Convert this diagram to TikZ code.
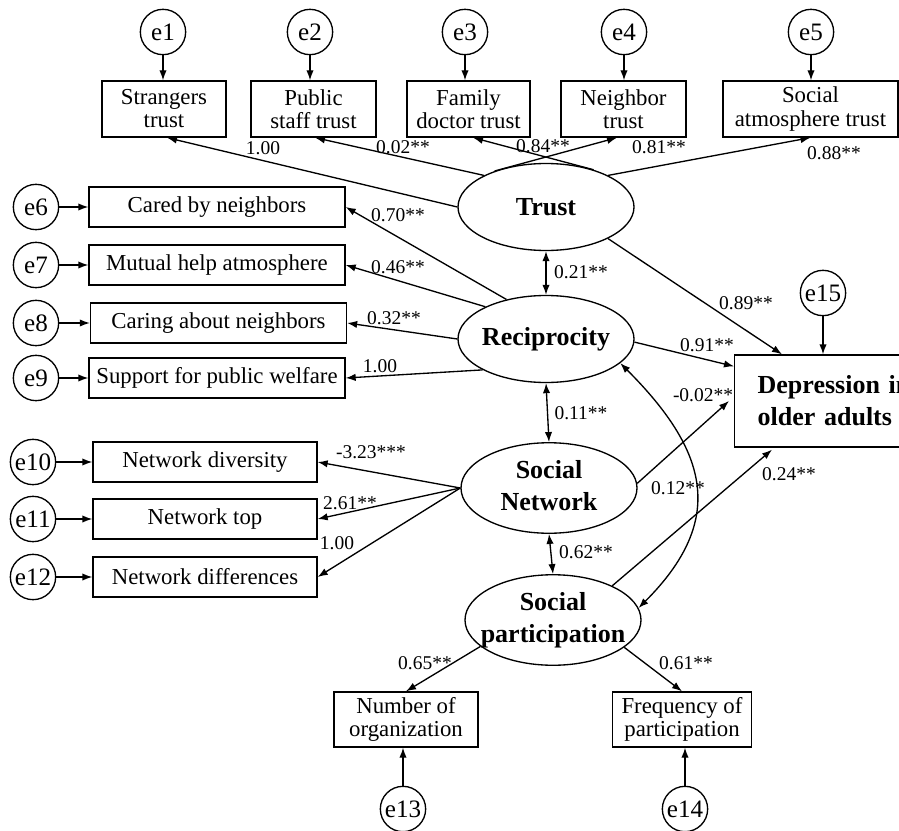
\documentclass[tikz,border=0pt]{standalone}
\usepackage{fontspec}
\setmainfont{Liberation Serif}
\usetikzlibrary{arrows.meta,calc,shapes.geometric}
\begin{document}
\begin{tikzpicture}[x=0.75pt,y=-0.75pt,
  >={Latex[length=7.5pt,width=5.5pt]},
  conn/.style={->,line width=1pt},
  dconn/.style={<->,line width=1pt},
  errc/.style={circle,draw,line width=1pt,minimum size=34pt,inner sep=0pt,font=\fontsize{18.8}{20}\selectfont},
  obsbox/.style={rectangle,draw,line width=1pt,inner sep=0pt,align=center,font=\fontsize{17.1}{17.3}\selectfont},
  topbox/.style={obsbox,minimum height=42pt},
  leftbox/.style={obsbox,minimum width=192pt,minimum height=30pt},
  netbox/.style={obsbox,minimum width=168pt,minimum height=30pt},
  botbox/.style={obsbox,minimum height=41.25pt},
  latent/.style={ellipse,draw,line width=1pt,inner sep=0pt,minimum width=132pt,minimum height=65.25pt,font=\bfseries\fontsize{19.5}{24}\selectfont},
  depbox/.style={rectangle,draw,line width=1pt,anchor=west,text width=130pt,inner xsep=17.25pt,inner ysep=0pt,minimum height=69pt,align=left,font=\bfseries\fontsize{19.5}{24}\selectfont},
  coef/.style={inner sep=0pt,font=\fontsize{14.6}{15}\selectfont},
]
\useasboundingbox (0,0) rectangle (899,831);

% ---- error terms ----
\node[errc] (e1) at (163,32) {e1};
\node[errc] (e2) at (310,32) {e2};
\node[errc] (e3) at (465,32) {e3};
\node[errc] (e4) at (624,32) {e4};
\node[errc] (e5) at (811,32) {e5};
\node[errc] (e6) at (36,207) {e6};
\node[errc] (e7) at (36,265) {e7};
\node[errc] (e8) at (36,323) {e8};
\node[errc] (e9) at (36,378) {e9};
\node[errc] (e10) at (33,462) {e10};
\node[errc] (e11) at (33,519) {e11};
\node[errc] (e12) at (33,577) {e12};
\node[errc] (e13) at (403,809) {e13};
\node[errc] (e14) at (685,809) {e14};
\node[errc] (e15) at (823,293) {e15};

% ---- observed variables ----
\node[topbox,minimum width=93pt] (str) at (164,109) {Strangers\\trust};
\node[topbox,minimum width=93.75pt] (pub) at (313.5,109) {Public\\staff trust};
\node[topbox,minimum width=92.25pt] (fam) at (468.5,109) {Family\\doctor trust};
\node[topbox,minimum width=93.75pt] (nbr) at (623.5,109) {Neighbor\\trust};
\node[topbox,minimum width=131.25pt] (soc) at (810.5,109) {Social\\atmosphere trust};

\node[leftbox] (cbn) at (217,207) {Cared by neighbors};
\node[leftbox] (mha) at (217,265) {Mutual help atmosphere};
\node[leftbox] (can) at (218.5,323) {Caring about neighbors};
\node[leftbox] (spw) at (217,378) {Support for public welfare};

\node[netbox] (nd) at (205,462) {Network diversity};
\node[netbox] (nt) at (205,519) {Network top};
\node[netbox] (ndf) at (205,577) {Network differences};

\node[botbox,minimum width=108pt] (noo) at (406,719.5) {Number of\\organization};
\node[botbox,minimum width=104.25pt] (fop) at (682,719.5) {Frequency of\\participation};

\node[depbox] (dep) at (734,401) {Depression in\\older adults};

% ---- latent variables ----
\node[latent] (trust) at (546,207) {\makebox[0pt]{Trust}};
\node[latent] (rec) at (546,339) {\makebox[0pt]{Reciprocity}};
\node[latent] (sn) at (549,488) {\makebox[0pt]{\begin{tabular}{@{}c@{}}Social\\Network\end{tabular}}};
\node[latent] (sp) at (553,620) {\makebox[0pt]{\begin{tabular}{@{}c@{}}Social\\participation\end{tabular}}};

% ---- error arrows ----
\draw[conn] (e1) -- (e1 |- str.north);
\draw[conn] (e2) -- (e2 |- pub.north);
\draw[conn] (e3) -- (e3 |- fam.north);
\draw[conn] (e4) -- (e4 |- nbr.north);
\draw[conn] (e5) -- (e5 |- soc.north);
\draw[conn] (e6) -- (e6 -| cbn.west);
\draw[conn] (e7) -- (e7 -| mha.west);
\draw[conn] (e8) -- (e8 -| can.west);
\draw[conn] (e9) -- (e9 -| spw.west);
\draw[conn] (e10) -- (e10 -| nd.west);
\draw[conn] (e11) -- (e11 -| nt.west);
\draw[conn] (e12) -- (e12 -| ndf.west);
\draw[conn] (e13) -- (e13 |- noo.south);
\draw[conn] (e14) -- (e14 |- fop.south);
\draw[conn] (e15) -- (e15 |- dep.north);

% ---- loadings ----
\draw[conn] (trust.west) -- ($(str.south)+(3,0)$);
\draw[conn] (trust.153) -- ($(pub.south)+(1.5,0)$);
\draw[conn] (trust.38) -- ($(fam.south)+(4.5,0)$);
\draw[conn] (trust.145) -- ($(nbr.south)+(-6.5,0)$);
\draw[conn] (trust.27) -- (soc.south);

\draw[conn] (rec.135) -- (cbn.east);
\draw[conn] (rec.152) -- (mha.east);
\draw[conn] (rec.180) -- (can.east);
\draw[conn] (rec.206) -- (spw.east);

\draw[conn] (sn.west) -- (nd.east);
\draw[conn] (sn.west) -- (nt.east);
\draw[conn] (sn.west) -- (ndf.east);

\draw[conn] (sp.200) -- (noo.north);
\draw[conn] (sp.-21) -- (fop.north);

% ---- structural paths ----
\draw[conn] (trust.-27) -- ($(dep.north west)+(48,0)$);
\draw[conn] (rec.-2) -- ($(dep.north west)+(0,12)$);
\draw[conn] (sn.3) -- ($(dep.west)+(-5,0)$);
\draw[conn] (sp.30) -- ($(dep.south west)+(38,2)$);

\draw[dconn] (trust.south) -- (rec.north);
\draw[dconn] (rec.south) -- (sn.north);
\draw[dconn] (sn.south) -- (sp.north);
\draw[dconn] (rec.-18) to[out=-45,in=45,looseness=1.3] (sp.8);

% ---- coefficients ----
\node[coef] (c1) at (263,148) {1.00};
\node[coef] (c2) at (403,147) {0.02**};
\node[coef] (c3) at (543,146) {0.84**};
\node[coef] (c4) at (659,147) {0.81**};
\node[coef] (c5) at (834,153) {0.88**};
\node[coef] (c6) at (398,215) {0.70**};
\node[coef] (c7) at (398,267) {0.46**};
\node[coef] (c8) at (394,318) {0.32**};
\node[coef] (c9) at (380,366) {1.00};
\node[coef] (c10) at (581,272) {0.21**};
\node[coef] (c11) at (581,413) {0.11**};
\node[coef] (c12) at (586,552) {0.62**};
\node[coef] (c13) at (746,303) {0.89**};
\node[coef] (c14) at (707,345) {0.91**};
\node[coef] (c15) at (703,395) {-0.02**};
\node[coef] (c16) at (678,488) {0.12**};
\node[coef] (c17) at (789,474) {0.24**};
\node[coef] (c18) at (371,452) {-3.23***};
\node[coef] (c19) at (350,503) {2.61**};
\node[coef] (c20) at (337,543) {1.00};
\node[coef] (c21) at (425,663) {0.65**};
\node[coef] (c22) at (686,663) {0.61**};
\end{tikzpicture}
\end{document}
